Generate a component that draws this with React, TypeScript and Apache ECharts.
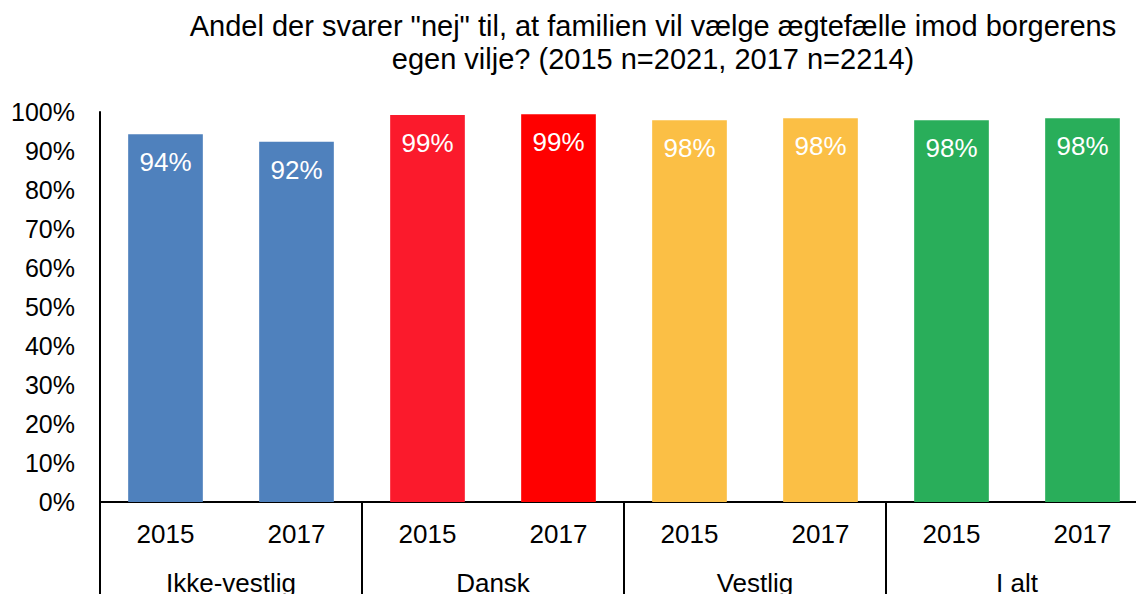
import React, { useEffect, useRef } from "react";
import * as echarts from "echarts";

const groups = ["Ikke-vestlig", "Dansk", "Vestlig", "I alt"];
const years = ["2015", "2017"];
const values = [94.3, 92.4, 99.2, 99.4, 97.9, 98.4, 97.9, 98.4];
const barColors = ["#4f81bd", "#4f81bd", "#fb1a2c", "#ff0000", "#fbbf45", "#fbbf45", "#29ae5a", "#29ae5a"];
const yTicks = [0, 10, 20, 30, 40, 50, 60, 70, 80, 90, 100];
const titleText = 'Andel der svarer "nej" til, at familien vil vælge ægtefælle imod borgerens\negen vilje? (2015 n=2021, 2017 n=2214)';

const FONT = '"Liberation Sans", Arial, Helvetica, sans-serif';

export default function App() {
  const ref = useRef<HTMLDivElement>(null);
  useEffect(() => {
    if (!ref.current) return;
    const chart = echarts.init(ref.current, null, { renderer: "svg" });
    const cats: string[] = [];
    groups.forEach((g) => years.forEach((y) => cats.push(g + "|" + y)));
    chart.setOption({
      animation: false,
      textStyle: { fontFamily: FONT },
      title: {
        text: titleText,
        left: 653,
        top: 9,
        padding: 0,
        textAlign: "center",
        textStyle: { fontFamily: FONT, fontSize: 29, fontWeight: "normal", color: "#000", lineHeight: 33.5 },
      },
      grid: { left: 100, top: 112, bottom: 92, right: -12, containLabel: false, outerBoundsMode: "none" },
      xAxis: [
        {
          type: "category",
          data: cats,
          position: "bottom",
          axisLine: { show: true, lineStyle: { color: "#000", width: 2 } },
          axisTick: { show: false },
          axisLabel: {
            interval: 0,
            margin: 19,
            fontSize: 26,
            color: "#000",
            fontFamily: FONT,
            formatter: (v: string) => v.split("|")[1],
          },
        },
        {
          type: "category",
          data: groups,
          position: "bottom",
          axisLine: { show: false },
          axisTick: { show: true, interval: 0, length: 100, lineStyle: { color: "#000", width: 2 } },
          axisLabel: { interval: 0, margin: 68, fontSize: 26, color: "#000", fontFamily: FONT },
        },
      ],
      yAxis: {
        type: "value",
        min: yTicks[0],
        max: yTicks[yTicks.length - 1],
        interval: 10,
        splitLine: { show: false },
        axisLine: { show: true, lineStyle: { color: "#000", width: 2 } },
        axisTick: { show: false },
        axisLabel: { fontSize: 25, color: "#000", margin: 25, fontFamily: FONT, formatter: "{value}%" },
      },
      series: [
        {
          type: "bar",
          xAxisIndex: 0,
          barCategoryGap: "43%",
          data: values.map((v, i) => ({ value: v, itemStyle: { color: barColors[i] } })),
          label: {
            show: true,
            position: "insideTop",
            distance: 15,
            color: "#fff",
            fontSize: 26,
            fontFamily: FONT,
            formatter: (p: any) => Math.round(p.value) + "%",
          },
        },
      ],
    });
    return () => chart.dispose();
  }, []);
  return <div ref={ref} style={{ width: 1136, height: 594, position: "absolute", left: 0, top: 0 }} />;
}
